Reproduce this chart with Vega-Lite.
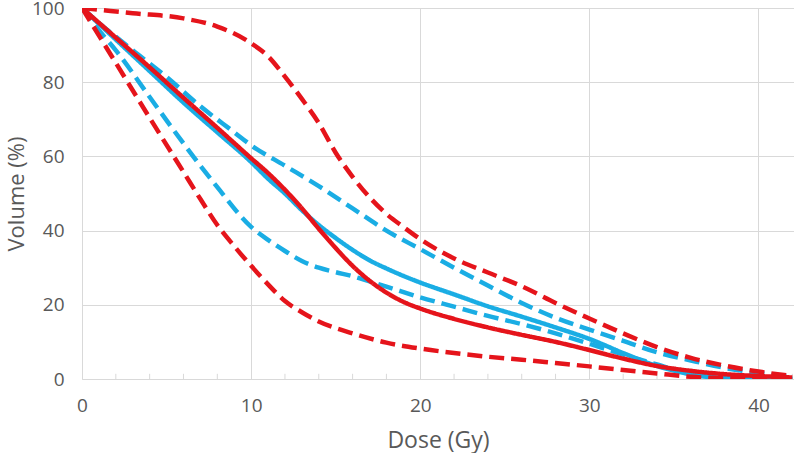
{
  "$schema": "https://vega.github.io/schema/vega-lite/v6.json",
  "width": 712,
  "height": 371,
  "autosize": "none",
  "padding": {"left": 82, "top": 8, "right": 0, "bottom": 74},
  "background": "white",
  "config": {"view": {"stroke": null}, "font": "Open Sans"},
  "datasets": {
    "minor": [
      {"dose": 2}, {"dose": 4}, {"dose": 6}, {"dose": 8},
      {"dose": 12}, {"dose": 14}, {"dose": 16}, {"dose": 18},
      {"dose": 22}, {"dose": 24}, {"dose": 26}, {"dose": 28},
      {"dose": 32}, {"dose": 34}, {"dose": 36}, {"dose": 38},
      {"dose": 42}
    ],
    "curves": [
      {"series": "BU", "group": "blue", "stat": "upper", "dose": 0, "volume": 100},
      {"series": "BU", "group": "blue", "stat": "upper", "dose": 1, "volume": 96},
      {"series": "BU", "group": "blue", "stat": "upper", "dose": 3, "volume": 88.6},
      {"series": "BU", "group": "blue", "stat": "upper", "dose": 5, "volume": 81.4},
      {"series": "BU", "group": "blue", "stat": "upper", "dose": 7, "volume": 73.5},
      {"series": "BU", "group": "blue", "stat": "upper", "dose": 9, "volume": 66.5},
      {"series": "BU", "group": "blue", "stat": "upper", "dose": 10, "volume": 63},
      {"series": "BU", "group": "blue", "stat": "upper", "dose": 12, "volume": 57.5},
      {"series": "BU", "group": "blue", "stat": "upper", "dose": 14, "volume": 52},
      {"series": "BU", "group": "blue", "stat": "upper", "dose": 16, "volume": 46},
      {"series": "BU", "group": "blue", "stat": "upper", "dose": 18, "volume": 40},
      {"series": "BU", "group": "blue", "stat": "upper", "dose": 20, "volume": 35},
      {"series": "BU", "group": "blue", "stat": "upper", "dose": 22, "volume": 30},
      {"series": "BU", "group": "blue", "stat": "upper", "dose": 24, "volume": 25.2},
      {"series": "BU", "group": "blue", "stat": "upper", "dose": 26, "volume": 20.5},
      {"series": "BU", "group": "blue", "stat": "upper", "dose": 28, "volume": 16.5},
      {"series": "BU", "group": "blue", "stat": "upper", "dose": 30, "volume": 13.3},
      {"series": "BU", "group": "blue", "stat": "upper", "dose": 32, "volume": 10.3},
      {"series": "BU", "group": "blue", "stat": "upper", "dose": 34, "volume": 7.2},
      {"series": "BU", "group": "blue", "stat": "upper", "dose": 36, "volume": 5},
      {"series": "BU", "group": "blue", "stat": "upper", "dose": 38, "volume": 3},
      {"series": "BU", "group": "blue", "stat": "upper", "dose": 40, "volume": 1.6},
      {"series": "BU", "group": "blue", "stat": "upper", "dose": 42, "volume": 0.6},

      {"series": "BL", "group": "blue", "stat": "lower", "dose": 0, "volume": 100},
      {"series": "BL", "group": "blue", "stat": "lower", "dose": 1, "volume": 94},
      {"series": "BL", "group": "blue", "stat": "lower", "dose": 2, "volume": 88.6},
      {"series": "BL", "group": "blue", "stat": "lower", "dose": 4, "volume": 76},
      {"series": "BL", "group": "blue", "stat": "lower", "dose": 6, "volume": 63.5},
      {"series": "BL", "group": "blue", "stat": "lower", "dose": 8, "volume": 51.7},
      {"series": "BL", "group": "blue", "stat": "lower", "dose": 10, "volume": 41},
      {"series": "BL", "group": "blue", "stat": "lower", "dose": 11, "volume": 37.5},
      {"series": "BL", "group": "blue", "stat": "lower", "dose": 12, "volume": 34.5},
      {"series": "BL", "group": "blue", "stat": "lower", "dose": 13, "volume": 31.8},
      {"series": "BL", "group": "blue", "stat": "lower", "dose": 14, "volume": 30},
      {"series": "BL", "group": "blue", "stat": "lower", "dose": 15, "volume": 28.8},
      {"series": "BL", "group": "blue", "stat": "lower", "dose": 16, "volume": 27.7},
      {"series": "BL", "group": "blue", "stat": "lower", "dose": 17, "volume": 26.3},
      {"series": "BL", "group": "blue", "stat": "lower", "dose": 18, "volume": 24.9},
      {"series": "BL", "group": "blue", "stat": "lower", "dose": 20, "volume": 22},
      {"series": "BL", "group": "blue", "stat": "lower", "dose": 22, "volume": 19.5},
      {"series": "BL", "group": "blue", "stat": "lower", "dose": 24, "volume": 17},
      {"series": "BL", "group": "blue", "stat": "lower", "dose": 26, "volume": 14.8},
      {"series": "BL", "group": "blue", "stat": "lower", "dose": 28, "volume": 12.3},
      {"series": "BL", "group": "blue", "stat": "lower", "dose": 30, "volume": 9.5},
      {"series": "BL", "group": "blue", "stat": "lower", "dose": 32, "volume": 6.6},
      {"series": "BL", "group": "blue", "stat": "lower", "dose": 34, "volume": 3.9},
      {"series": "BL", "group": "blue", "stat": "lower", "dose": 36, "volume": 1.3},
      {"series": "BL", "group": "blue", "stat": "lower", "dose": 38, "volume": 0.2},
      {"series": "BL", "group": "blue", "stat": "lower", "dose": 40, "volume": 0},
      {"series": "BL", "group": "blue", "stat": "lower", "dose": 42, "volume": 0},

      {"series": "BS", "group": "blue", "stat": "mean", "dose": 0, "volume": 100},
      {"series": "BS", "group": "blue", "stat": "mean", "dose": 2, "volume": 91.5},
      {"series": "BS", "group": "blue", "stat": "mean", "dose": 4, "volume": 83},
      {"series": "BS", "group": "blue", "stat": "mean", "dose": 6, "volume": 74.5},
      {"series": "BS", "group": "blue", "stat": "mean", "dose": 8, "volume": 66.5},
      {"series": "BS", "group": "blue", "stat": "mean", "dose": 10, "volume": 58.5},
      {"series": "BS", "group": "blue", "stat": "mean", "dose": 11, "volume": 54},
      {"series": "BS", "group": "blue", "stat": "mean", "dose": 12, "volume": 50},
      {"series": "BS", "group": "blue", "stat": "mean", "dose": 13, "volume": 45.5},
      {"series": "BS", "group": "blue", "stat": "mean", "dose": 14, "volume": 41.5},
      {"series": "BS", "group": "blue", "stat": "mean", "dose": 15, "volume": 38},
      {"series": "BS", "group": "blue", "stat": "mean", "dose": 16, "volume": 34.8},
      {"series": "BS", "group": "blue", "stat": "mean", "dose": 17, "volume": 32},
      {"series": "BS", "group": "blue", "stat": "mean", "dose": 18, "volume": 29.8},
      {"series": "BS", "group": "blue", "stat": "mean", "dose": 19, "volume": 27.8},
      {"series": "BS", "group": "blue", "stat": "mean", "dose": 20, "volume": 26},
      {"series": "BS", "group": "blue", "stat": "mean", "dose": 22, "volume": 22.8},
      {"series": "BS", "group": "blue", "stat": "mean", "dose": 24, "volume": 19.6},
      {"series": "BS", "group": "blue", "stat": "mean", "dose": 26, "volume": 16.8},
      {"series": "BS", "group": "blue", "stat": "mean", "dose": 28, "volume": 13.9},
      {"series": "BS", "group": "blue", "stat": "mean", "dose": 30, "volume": 10.8},
      {"series": "BS", "group": "blue", "stat": "mean", "dose": 32, "volume": 7},
      {"series": "BS", "group": "blue", "stat": "mean", "dose": 34, "volume": 3.5},
      {"series": "BS", "group": "blue", "stat": "mean", "dose": 36, "volume": 1.3},
      {"series": "BS", "group": "blue", "stat": "mean", "dose": 38, "volume": 0.3},
      {"series": "BS", "group": "blue", "stat": "mean", "dose": 40, "volume": 0.1},
      {"series": "BS", "group": "blue", "stat": "mean", "dose": 42, "volume": 0},

      {"series": "RU", "group": "red", "stat": "upper", "dose": 0, "volume": 100},
      {"series": "RU", "group": "red", "stat": "upper", "dose": 3, "volume": 98.6},
      {"series": "RU", "group": "red", "stat": "upper", "dose": 6, "volume": 97.2},
      {"series": "RU", "group": "red", "stat": "upper", "dose": 8, "volume": 95},
      {"series": "RU", "group": "red", "stat": "upper", "dose": 10, "volume": 90.5},
      {"series": "RU", "group": "red", "stat": "upper", "dose": 11, "volume": 87},
      {"series": "RU", "group": "red", "stat": "upper", "dose": 12, "volume": 81.5},
      {"series": "RU", "group": "red", "stat": "upper", "dose": 13, "volume": 75.5},
      {"series": "RU", "group": "red", "stat": "upper", "dose": 14, "volume": 69},
      {"series": "RU", "group": "red", "stat": "upper", "dose": 15, "volume": 61},
      {"series": "RU", "group": "red", "stat": "upper", "dose": 16, "volume": 54.5},
      {"series": "RU", "group": "red", "stat": "upper", "dose": 17, "volume": 49},
      {"series": "RU", "group": "red", "stat": "upper", "dose": 18, "volume": 44.5},
      {"series": "RU", "group": "red", "stat": "upper", "dose": 19, "volume": 41},
      {"series": "RU", "group": "red", "stat": "upper", "dose": 20, "volume": 37.7},
      {"series": "RU", "group": "red", "stat": "upper", "dose": 22, "volume": 32.5},
      {"series": "RU", "group": "red", "stat": "upper", "dose": 24, "volume": 28.7},
      {"series": "RU", "group": "red", "stat": "upper", "dose": 26, "volume": 25},
      {"series": "RU", "group": "red", "stat": "upper", "dose": 28, "volume": 20.5},
      {"series": "RU", "group": "red", "stat": "upper", "dose": 30, "volume": 16.3},
      {"series": "RU", "group": "red", "stat": "upper", "dose": 32, "volume": 12.3},
      {"series": "RU", "group": "red", "stat": "upper", "dose": 34, "volume": 8.6},
      {"series": "RU", "group": "red", "stat": "upper", "dose": 36, "volume": 5.7},
      {"series": "RU", "group": "red", "stat": "upper", "dose": 38, "volume": 3.6},
      {"series": "RU", "group": "red", "stat": "upper", "dose": 40, "volume": 2},
      {"series": "RU", "group": "red", "stat": "upper", "dose": 42, "volume": 0.8},

      {"series": "RL", "group": "red", "stat": "lower", "dose": 0, "volume": 100},
      {"series": "RL", "group": "red", "stat": "lower", "dose": 2, "volume": 85.2},
      {"series": "RL", "group": "red", "stat": "lower", "dose": 4, "volume": 70.4},
      {"series": "RL", "group": "red", "stat": "lower", "dose": 6, "volume": 55.8},
      {"series": "RL", "group": "red", "stat": "lower", "dose": 7, "volume": 48.5},
      {"series": "RL", "group": "red", "stat": "lower", "dose": 8, "volume": 41.5},
      {"series": "RL", "group": "red", "stat": "lower", "dose": 9, "volume": 35.8},
      {"series": "RL", "group": "red", "stat": "lower", "dose": 10, "volume": 30.5},
      {"series": "RL", "group": "red", "stat": "lower", "dose": 11, "volume": 25.5},
      {"series": "RL", "group": "red", "stat": "lower", "dose": 12, "volume": 21},
      {"series": "RL", "group": "red", "stat": "lower", "dose": 13, "volume": 18},
      {"series": "RL", "group": "red", "stat": "lower", "dose": 14, "volume": 15.5},
      {"series": "RL", "group": "red", "stat": "lower", "dose": 16, "volume": 12.3},
      {"series": "RL", "group": "red", "stat": "lower", "dose": 18, "volume": 9.8},
      {"series": "RL", "group": "red", "stat": "lower", "dose": 20, "volume": 8.2},
      {"series": "RL", "group": "red", "stat": "lower", "dose": 22, "volume": 7},
      {"series": "RL", "group": "red", "stat": "lower", "dose": 24, "volume": 6},
      {"series": "RL", "group": "red", "stat": "lower", "dose": 26, "volume": 5.2},
      {"series": "RL", "group": "red", "stat": "lower", "dose": 28, "volume": 4.3},
      {"series": "RL", "group": "red", "stat": "lower", "dose": 30, "volume": 3.4},
      {"series": "RL", "group": "red", "stat": "lower", "dose": 32, "volume": 2.4},
      {"series": "RL", "group": "red", "stat": "lower", "dose": 34, "volume": 1.5},
      {"series": "RL", "group": "red", "stat": "lower", "dose": 36, "volume": 0.6},
      {"series": "RL", "group": "red", "stat": "lower", "dose": 38, "volume": 0.2},
      {"series": "RL", "group": "red", "stat": "lower", "dose": 40, "volume": 0},
      {"series": "RL", "group": "red", "stat": "lower", "dose": 42, "volume": 0},

      {"series": "RS", "group": "red", "stat": "mean", "dose": 0, "volume": 100},
      {"series": "RS", "group": "red", "stat": "mean", "dose": 2, "volume": 92},
      {"series": "RS", "group": "red", "stat": "mean", "dose": 4, "volume": 84},
      {"series": "RS", "group": "red", "stat": "mean", "dose": 6, "volume": 75.8},
      {"series": "RS", "group": "red", "stat": "mean", "dose": 8, "volume": 67.7},
      {"series": "RS", "group": "red", "stat": "mean", "dose": 10, "volume": 59.5},
      {"series": "RS", "group": "red", "stat": "mean", "dose": 11, "volume": 55.5},
      {"series": "RS", "group": "red", "stat": "mean", "dose": 12, "volume": 51},
      {"series": "RS", "group": "red", "stat": "mean", "dose": 13, "volume": 46},
      {"series": "RS", "group": "red", "stat": "mean", "dose": 14, "volume": 40.5},
      {"series": "RS", "group": "red", "stat": "mean", "dose": 15, "volume": 35.3},
      {"series": "RS", "group": "red", "stat": "mean", "dose": 16, "volume": 30.5},
      {"series": "RS", "group": "red", "stat": "mean", "dose": 17, "volume": 26.5},
      {"series": "RS", "group": "red", "stat": "mean", "dose": 18, "volume": 23.3},
      {"series": "RS", "group": "red", "stat": "mean", "dose": 19, "volume": 20.8},
      {"series": "RS", "group": "red", "stat": "mean", "dose": 20, "volume": 19},
      {"series": "RS", "group": "red", "stat": "mean", "dose": 22, "volume": 16.2},
      {"series": "RS", "group": "red", "stat": "mean", "dose": 24, "volume": 13.9},
      {"series": "RS", "group": "red", "stat": "mean", "dose": 26, "volume": 11.9},
      {"series": "RS", "group": "red", "stat": "mean", "dose": 28, "volume": 10},
      {"series": "RS", "group": "red", "stat": "mean", "dose": 30, "volume": 7.8},
      {"series": "RS", "group": "red", "stat": "mean", "dose": 32, "volume": 5.5},
      {"series": "RS", "group": "red", "stat": "mean", "dose": 34, "volume": 3.5},
      {"series": "RS", "group": "red", "stat": "mean", "dose": 36, "volume": 2.2},
      {"series": "RS", "group": "red", "stat": "mean", "dose": 38, "volume": 1.3},
      {"series": "RS", "group": "red", "stat": "mean", "dose": 40, "volume": 0.8},
      {"series": "RS", "group": "red", "stat": "mean", "dose": 42, "volume": 0.4}
    ]
  },
  "encoding": {
    "x": {
      "field": "dose",
      "type": "quantitative",
      "scale": {"domain": [0, 42.1], "nice": false, "zero": false},
      "axis": {
        "values": [0, 10, 20, 30, 40],
        "grid": true,
        "gridColor": "#D9D9D9",
        "gridWidth": 1,
        "ticks": false,
        "domainColor": "#D9D9D9",
        "domainWidth": 1,
        "labelFontSize": 19,
        "labelColor": "#595959",
        "labelPadding": 17,
        "labelFlush": false,
        "title": "Dose (Gy)",
        "titleFontSize": 23,
        "titleFontWeight": "normal",
        "titleColor": "#595959",
        "titlePadding": 14
      }
    }
  },
  "layer": [
    {
      "data": {"name": "minor"},
      "mark": {"type": "rule", "color": "#D9D9D9", "strokeWidth": 1},
      "encoding": {
        "y": {"datum": 0, "type": "quantitative"},
        "y2": {"datum": 1.4}
      }
    },
    {
      "data": {"name": "curves"},
      "transform": [{"filter": "datum.group === 'blue'"}],
      "mark": {"type": "line", "interpolate": "monotone", "strokeWidth": 4.5, "strokeCap": "butt", "clip": true},
      "encoding": {
        "y": {
          "field": "volume",
          "type": "quantitative",
          "scale": {"domain": [0, 100], "nice": false},
          "axis": {
            "values": [0, 20, 40, 60, 80, 100],
            "grid": true,
            "gridColor": "#D9D9D9",
            "gridWidth": 1,
            "domain": false,
            "ticks": false,
            "labelFontSize": 19,
            "labelColor": "#595959",
            "labelPadding": 18,
            "title": "Volume (%)",
            "titleFontSize": 22,
            "titleFontWeight": "normal",
            "titleColor": "#595959",
            "titlePadding": 3
          }
        },
        "color": {"field": "group", "type": "nominal", "scale": {"domain": ["blue", "red"], "range": ["#1AADE4", "#E5141B"]}, "legend": null},
        "strokeDash": {"field": "stat", "type": "nominal", "scale": {"domain": ["mean", "lower", "upper"], "range": [[1, 0], [15, 7], [15, 7]]}, "legend": null},
        "detail": {"field": "series"}
      }
    },
    {
      "data": {"name": "curves"},
      "transform": [{"filter": "datum.group === 'red'"}],
      "mark": {"type": "line", "interpolate": "monotone", "strokeWidth": 4.5, "strokeCap": "butt", "clip": true},
      "encoding": {
        "y": {"field": "volume", "type": "quantitative"},
        "color": {"field": "group", "type": "nominal", "legend": null},
        "strokeDash": {"field": "stat", "type": "nominal", "legend": null},
        "detail": {"field": "series"}
      }
    }
  ]
}
